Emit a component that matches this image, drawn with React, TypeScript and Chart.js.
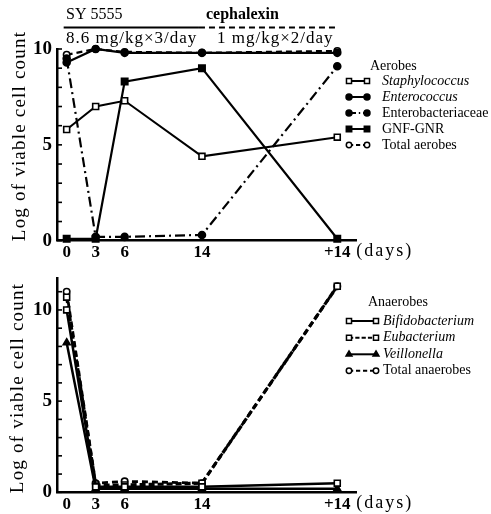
import React, { useEffect, useRef } from "react";
import { Chart, registerables } from "chart.js";
import { drawPoint } from "chart.js/helpers";

Chart.register(...registerables);

// ---------- data ----------
const days = [0, 3, 6, 14, 28];
const dayLabels = ["0", "3", "6", "14", "+14"];

const staphylococcus = [5.8, 7.0, 7.3, 4.4, 5.4];
const enterococcus = [9.3, 10.0, 9.8, 9.8, 9.8];
const enterobacteriaceae = [9.5, 0.2, 0.2, 0.3, 9.1];
const gnfGnr = [0.1, 0.1, 8.3, 9.0, 0.1];
const totalAerobes = [9.7, 10.0, 9.85, 9.8, 9.9];

const bifidobacterium = [10.0, 0.3, 0.3, 0.3, 0.5];
const eubacterium = [10.7, 0.4, 0.4, 0.5, 11.3];
const veillonella = [8.2, 0.2, 0.2, 0.2, 0.2];
const totalAnaerobes = [11.0, 0.5, 0.6, 0.5, 11.3];

const yTickLabels = [0, 5, 10];
const topMinorTicks = [0, 1, 2, 3, 4, 5, 6, 7, 8, 9, 10];
const bottomMinorTicks = [0, 1, 2, 3, 4, 5, 6, 7, 8, 9, 10, 11];

const FONT = "'Liberation Serif', 'Times New Roman', serif";

type Item = {
  label: string;
  italic: boolean;
  data: number[];
  style: string;
  filled: boolean;
  dash: number[];
  width: number;
  radius: number;
};

const topItems: Item[] = [
  { label: "Staphylococcus", italic: true, data: staphylococcus, style: "rect", filled: false, dash: [], width: 2, radius: 4.2 },
  { label: "Enterococcus", italic: true, data: enterococcus, style: "circle", filled: true, dash: [], width: 2.2, radius: 3.5 },
  { label: "Enterobacteriaceae", italic: false, data: enterobacteriaceae, style: "circle", filled: true, dash: [10, 4, 2, 4], width: 2.2, radius: 3.5 },
  { label: "GNF-GNR", italic: false, data: gnfGnr, style: "rect", filled: true, dash: [], width: 2.2, radius: 4.5 },
  { label: "Total aerobes", italic: false, data: totalAerobes, style: "circle", filled: false, dash: [6, 4], width: 2.2, radius: 3.2 },
];

const bottomItems: Item[] = [
  { label: "Bifidobacterium", italic: true, data: bifidobacterium, style: "rect", filled: false, dash: [], width: 2.5, radius: 4.2 },
  { label: "Eubacterium", italic: true, data: eubacterium, style: "rect", filled: false, dash: [6, 3], width: 3.2, radius: 4.2 },
  { label: "Veillonella", italic: true, data: veillonella, style: "triangle", filled: true, dash: [], width: 2.5, radius: 4 },
  { label: "Total anaerobes", italic: false, data: totalAnaerobes, style: "circle", filled: false, dash: [6, 4], width: 2.8, radius: 3.2 },
];

function makeDatasets(items: Item[]) {
  return items.map((it) => ({
    label: it.label,
    data: days.map((d, i) => ({ x: d, y: it.data[i] })),
    borderColor: "#000",
    backgroundColor: it.filled ? "#000" : "#fff",
    pointBackgroundColor: it.filled ? "#000" : "#fff",
    pointBorderColor: "#000",
    pointStyle: it.style,
    pointRadius: it.radius,
    pointBorderWidth: 1.6,
    borderWidth: it.width,
    borderDash: it.dash,
    tension: 0,
    clip: false as any,
  }));
}

type PanelCfg = {
  items: Item[];
  legendTitle: string;
  legendTitleX: number;
  legendTitleY: number;
  legendRows: number[];
  sampleX1: number;
  sampleX2: number;
  textX: number;
  yTitleX: number;
  yTitleY: number;
  header: boolean;
};

function panelPlugin(cfg: PanelCfg) {
  return {
    id: "panelDecor",
    afterDraw(chart: any) {
      const { ctx, chartArea, scales } = chart;
      const y = scales.y;
      const x = scales.x;
      ctx.save();
      // inward ticks on y axis
      ctx.strokeStyle = "#000";
      ctx.lineWidth = 1.6;
      ctx.setLineDash([]);
      y.ticks.forEach((t: any) => {
        const py = y.getPixelForValue(t.value);
        ctx.beginPath();
        ctx.moveTo(chartArea.left, py);
        ctx.lineTo(chartArea.left + 5, py);
        ctx.stroke();
      });

      // "(days)"
      ctx.fillStyle = "#000";
      ctx.font = `18px ${FONT}`;
      ctx.textBaseline = "middle";
      ctx.textAlign = "left";
      (ctx as any).letterSpacing = "2px";
      const lastX = x.getPixelForValue(days[days.length - 1]);
      ctx.fillText("(days)", lastX + 19, chartArea.bottom + 11);

      // y title
      ctx.save();
      ctx.translate(cfg.yTitleX, cfg.yTitleY);
      ctx.rotate(-Math.PI / 2);
      ctx.textAlign = "center";
      ctx.font = `19px ${FONT}`;
      (ctx as any).letterSpacing = "1.2px";
      ctx.fillText("Log of viable cell count", 0, 0);
      ctx.restore();
      (ctx as any).letterSpacing = "0px";

      // legend
      ctx.font = `14px ${FONT}`;
      ctx.textAlign = "left";
      ctx.fillText(cfg.legendTitle, cfg.legendTitleX, cfg.legendTitleY);
      cfg.items.forEach((it, i) => {
        const ry = cfg.legendRows[i];
        ctx.strokeStyle = "#000";
        ctx.lineWidth = 2;
        ctx.setLineDash(it.dash.map((v) => v * 0.7));
        ctx.beginPath();
        ctx.moveTo(cfg.sampleX1, ry);
        ctx.lineTo(cfg.sampleX2, ry);
        ctx.stroke();
        ctx.setLineDash([]);
        ctx.lineWidth = 1.5;
        ctx.fillStyle = it.filled ? "#000" : "#fff";
        [cfg.sampleX1, cfg.sampleX2].forEach((px) => {
          drawPoint(ctx, { pointStyle: it.style as any, radius: it.radius * 0.85, rotation: 0, borderWidth: 1.5 } as any, px, ry);
        });
        ctx.fillStyle = "#000";
        ctx.font = `${it.italic ? "italic " : ""}14px ${FONT}`;
        ctx.fillText(it.label, cfg.textX, ry);
      });

      // header
      if (cfg.header) {
        ctx.fillStyle = "#000";
        ctx.font = `16px ${FONT}`;
        ctx.fillText("SY 5555", 66, 15);
        ctx.font = `bold 16px ${FONT}`;
        ctx.fillText("cephalexin", 206, 15);
        const x0 = x.getPixelForValue(0);
        const x14 = x.getPixelForValue(14);
        const x28 = x.getPixelForValue(28);
        ctx.lineWidth = 2;
        ctx.strokeStyle = "#000";
        ctx.setLineDash([]);
        ctx.beginPath();
        ctx.moveTo(x0 - 3, 27.5);
        ctx.lineTo(x14 - 3, 27.5);
        ctx.stroke();
        ctx.setLineDash([6, 4]);
        ctx.beginPath();
        ctx.moveTo(x14 - 3, 27.5);
        ctx.lineTo(x28, 27.5);
        ctx.stroke();
        ctx.setLineDash([]);
        ctx.font = `17px ${FONT}`;
        (ctx as any).letterSpacing = "1px";
        ctx.fillText("8.6 mg/kg×3/day", 66, 39);
        ctx.fillText("1 mg/kg×2/day", 217, 39);
        (ctx as any).letterSpacing = "0px";
      }
      ctx.restore();
    },
  };
}

function makeConfig(items: Item[], yMax: number, minorTicks: number[], padTop: number, xAxisH: number, cfg: PanelCfg): any {
  return {
    type: "line",
    data: { datasets: makeDatasets(items) },
    options: {
      animation: false,
      responsive: false,
      devicePixelRatio: 1,
      layout: { padding: { top: padTop, right: 134.4, left: 0, bottom: 0 } },
      plugins: { legend: { display: false }, tooltip: { enabled: false } },
      scales: {
        x: {
          type: "linear",
          min: -1,
          max: 30,
          grid: { display: false, drawTicks: false },
          border: { display: true, color: "#000", width: 2.5 },
          ticks: {
            color: "#000",
            padding: 2,
            maxRotation: 0,
            autoSkip: false,
            font: { family: FONT, size: 17, weight: "bold" },
            callback: (v: number) => {
              const i = days.indexOf(v);
              return i >= 0 ? dayLabels[i] : "";
            },
          },
          afterBuildTicks: (s: any) => {
            s.ticks = days.map((v) => ({ value: v }));
          },
          afterFit: (s: any) => {
            s.height = xAxisH;
          },
        },
        y: {
          type: "linear",
          min: 0,
          max: yMax,
          grid: { display: false, drawTicks: false },
          border: { display: true, color: "#000", width: 2.5 },
          ticks: {
            autoSkip: false,
            color: "#000",
            padding: 5,
            font: { family: FONT, size: 19, weight: "bold" },
            callback: (v: number) => (yTickLabels.includes(v) ? String(v) : ""),
          },
          afterBuildTicks: (s: any) => {
            s.ticks = minorTicks.map((v) => ({ value: v }));
          },
          afterFit: (s: any) => {
            s.width = 57;
          },
        },
      },
    },
    plugins: [panelPlugin(cfg)],
  };
}

export default function App() {
  const topRef = useRef<HTMLCanvasElement>(null);
  const botRef = useRef<HTMLCanvasElement>(null);

  useEffect(() => {
    const top = new Chart(
      topRef.current as HTMLCanvasElement,
      makeConfig(topItems, 10, topMinorTicks, 49, 21.3, {
        items: topItems,
        legendTitle: "Aerobes",
        legendTitleX: 370,
        legendTitleY: 66,
        legendRows: [81, 97, 113, 129, 145],
        sampleX1: 349,
        sampleX2: 367,
        textX: 382,
        yTitleX: 20,
        yTitleY: 136,
        header: true,
      })
    );
    const bot = new Chart(
      botRef.current as HTMLCanvasElement,
      makeConfig(bottomItems, 11.73, bottomMinorTicks, 4.7, 21.7, {
        items: bottomItems,
        legendTitle: "Anaerobes",
        legendTitleX: 368,
        legendTitleY: 40,
        legendRows: [59, 75.7, 92.3, 108.7],
        sampleX1: 349,
        sampleX2: 376,
        textX: 383,
        yTitleX: 18.5,
        yTitleY: 126,
        header: false,
      })
    );
    return () => {
      top.destroy();
      bot.destroy();
    };
  }, []);

  return (
    <div style={{ position: "absolute", left: 0, top: 0, width: 491, height: 514, background: "#fff" }}>
      <div style={{ position: "absolute", left: 0, top: 0, width: 491, height: 262 }}>
        <canvas ref={topRef} width={491} height={262} style={{ display: "block" }} />
      </div>
      <div style={{ position: "absolute", left: 0, top: 262, width: 491, height: 252 }}>
        <canvas ref={botRef} width={491} height={252} style={{ display: "block" }} />
      </div>
    </div>
  );
}
